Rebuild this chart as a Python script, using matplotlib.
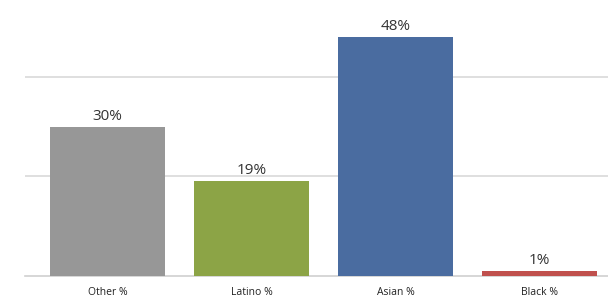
import matplotlib
matplotlib.use("Agg")
import matplotlib.pyplot as plt

categories = ["Other %", "Latino %", "Asian %", "Black %"]
values = [30, 19, 48, 1]
labels = ["30%", "19%", "48%", "1%"]
colors = ["#979797", "#8ca446", "#4a6ca0", "#c0504d"]

plt.rcParams['font.family'] = ['Open Sans', 'DejaVu Sans']

fig = plt.figure(figsize=(6.08, 3.03), dpi=100)
ax = fig.add_axes([25 / 608, 27 / 303, 583 / 608, 276 / 303])

x = list(range(len(categories)))
ax.bar(x, values, width=0.8, color=colors, zorder=3)
for xi, v, lab in zip(x, values, labels):
    ax.text(xi, v + 0.6, lab, ha='center', va='bottom', fontsize=11, color='#333333')

ax.set_xlim(-0.573, 3.476)
ax.set_ylim(0, 55.4)
ax.set_yticks([20, 40])
ax.yaxis.grid(True, color='#d9d9d9', linewidth=1.2, zorder=0)
ax.set_xticks(x)
ax.set_xticklabels(categories, fontsize=7.5, color='#222222')
ax.tick_params(axis='x', length=0, pad=8)
ax.tick_params(axis='y', length=0, labelleft=False)
for side in ['top', 'right', 'left']:
    ax.spines[side].set_visible(False)
ax.spines['bottom'].set_color('#d0d0d0')
ax.spines['bottom'].set_linewidth(1.2)

fig.savefig("out.png", dpi=100)
